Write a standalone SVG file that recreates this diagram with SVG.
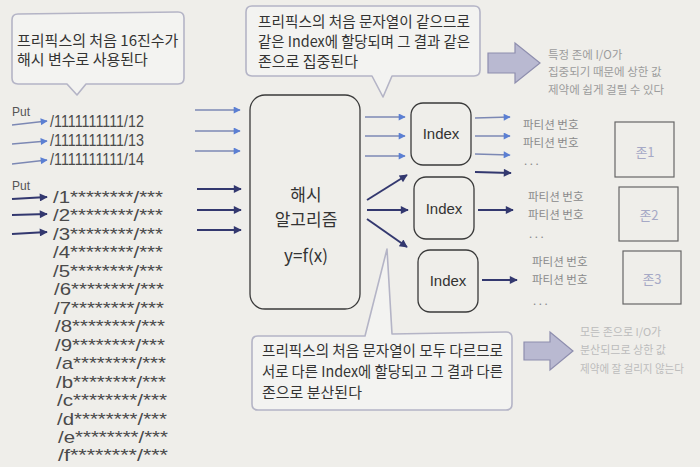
<svg xmlns="http://www.w3.org/2000/svg" width="700" height="467" viewBox="0 0 700 467">
<defs>
<marker id="ah-light" viewBox="0 0 10 10" refX="9" refY="5" markerWidth="9" markerHeight="7" markerUnits="userSpaceOnUse" orient="auto"><path d="M0,0 L10,5 L0,10 Z" fill="#5b7fd3"/></marker>
<marker id="ah-dark" viewBox="0 0 10 10" refX="9" refY="5" markerWidth="10" markerHeight="8" markerUnits="userSpaceOnUse" orient="auto"><path d="M0,0 L10,5 L0,10 Z" fill="#33386f"/></marker>
<style>
.bg{fill:#efeeea}
.callout{fill:#f3f3f1;stroke:#b4b4c6;stroke-width:1.6;stroke-linejoin:round}
.ct{font-family:"Noto Sans CJK KR","Liberation Sans",sans-serif;font-size:15px;fill:#333333}
.key{font-family:"Liberation Sans","Noto Sans CJK KR",sans-serif;font-size:17px;fill:#4a4a4a}
.put{font-family:"Liberation Sans",sans-serif;font-size:12px;fill:#555555}
.lt{stroke:#7c88b4;stroke-width:1.3;fill:none;marker-end:url(#ah-light)}
.dk{stroke:#33386f;stroke-width:2;fill:none;marker-end:url(#ah-dark)}
.box{fill:none;stroke:#3a3a3a;stroke-width:1.3}
.zone{fill:none;stroke:#666666;stroke-width:1.2}
.ht{font-family:"Noto Sans CJK KR","Liberation Sans",sans-serif;font-size:17px;fill:#333333;text-anchor:middle}
.idx{font-family:"Liberation Sans",sans-serif;font-size:15px;fill:#333333;text-anchor:middle}
.pt{font-family:"Noto Sans CJK KR",sans-serif;font-size:11.5px;fill:#8a8a8a}
.zt{font-family:"Noto Sans CJK KR",sans-serif;font-size:13px;fill:#a6a9c6;text-anchor:middle}
.note{font-family:"Noto Sans CJK KR",sans-serif;font-size:11.5px;fill:#9c9c9c}
.note2{font-family:"Noto Sans CJK KR",sans-serif;font-size:11px;fill:#bcbcbc}
.bigarrow{fill:#b9b9d1;stroke:#8e8eae;stroke-width:1.2}
</style>
</defs>
<rect class="bg" x="0" y="0" width="700" height="467"/>

<g id="callout-left">
<path class="callout" d="M18,14 L178,12 Q184,12 184,18 L184,78 Q184,84 178,84 L86,84 L77,95 L67,84 L18,84 Q12,84 12,78 L12,20 Q12,14 18,14 Z"/>
<text class="ct" x="17" y="46">프리픽스의 처음 16진수가</text>
<text class="ct" x="17" y="65">해시 변수로 사용된다</text>
</g>

<g id="callout-top">
<path class="callout" d="M252,6 L474,6 Q480,6 480,12 L480,70 Q480,76 474,76 L392,76 L383,97 L372,76 L252,76 Q246,76 246,70 L246,12 Q246,6 252,6 Z"/>
<text class="ct" x="258" y="27" textLength="212" lengthAdjust="spacingAndGlyphs">프리픽스의 처음 문자열이 같으므로</text>
<text class="ct" x="258" y="47" textLength="212" lengthAdjust="spacingAndGlyphs">같은 Index에 할당되며 그 결과 같은</text>
<text class="ct" x="258" y="67">존으로 집중된다</text>
</g>

<g id="callout-bottom">
<path class="callout" d="M258,336 L365,336 L387,249 L392,334 L506,332 Q512,332 512,338 L512,404 Q512,410 506,410 L258,410 Q252,410 252,404 L252,342 Q252,336 258,336 Z"/>
<text class="ct" x="262" y="356" textLength="241" lengthAdjust="spacingAndGlyphs">프리픽스의 처음 문자열이 모두 다르므로</text>
<text class="ct" x="262" y="377" textLength="241" lengthAdjust="spacingAndGlyphs">서로 다른 Index에 할당되고 그 결과 다른</text>
<text class="ct" x="262" y="398">존으로 분산된다</text>
</g>

<g id="keys-same">
<text class="put" x="12" y="116">Put</text>
<text class="key" x="50" y="127" textLength="94" lengthAdjust="spacingAndGlyphs">/1111111111/12</text>
<text class="key" x="50" y="146" textLength="94" lengthAdjust="spacingAndGlyphs">/1111111111/13</text>
<text class="key" x="50" y="165" textLength="94" lengthAdjust="spacingAndGlyphs">/1111111111/14</text>
</g>

<g id="keys-diff">
<text class="put" x="12" y="190">Put</text>
<text class="key" x="53" y="203" textLength="110" lengthAdjust="spacingAndGlyphs">/1********/***</text>
<text class="key" x="53" y="221" textLength="110" lengthAdjust="spacingAndGlyphs">/2********/***</text>
<text class="key" x="53" y="240" textLength="110" lengthAdjust="spacingAndGlyphs">/3********/***</text>
<text class="key" x="53" y="258" textLength="110" lengthAdjust="spacingAndGlyphs">/4********/***</text>
<text class="key" x="53" y="277" textLength="110" lengthAdjust="spacingAndGlyphs">/5********/***</text>
<text class="key" x="54" y="295" textLength="110" lengthAdjust="spacingAndGlyphs">/6********/***</text>
<text class="key" x="54" y="314" textLength="110" lengthAdjust="spacingAndGlyphs">/7********/***</text>
<text class="key" x="55" y="332" textLength="110" lengthAdjust="spacingAndGlyphs">/8********/***</text>
<text class="key" x="55" y="351" textLength="110" lengthAdjust="spacingAndGlyphs">/9********/***</text>
<text class="key" x="56" y="369" textLength="110" lengthAdjust="spacingAndGlyphs">/a********/***</text>
<text class="key" x="56" y="388" textLength="110" lengthAdjust="spacingAndGlyphs">/b********/***</text>
<text class="key" x="57" y="406" textLength="110" lengthAdjust="spacingAndGlyphs">/c********/***</text>
<text class="key" x="57" y="425" textLength="110" lengthAdjust="spacingAndGlyphs">/d********/***</text>
<text class="key" x="58" y="443" textLength="110" lengthAdjust="spacingAndGlyphs">/e********/***</text>
<text class="key" x="58" y="461" textLength="110" lengthAdjust="spacingAndGlyphs">/f********/***</text>
</g>

<g id="hash">
<rect class="box" x="250" y="95" width="110" height="214" rx="15"/>
<text class="ht" x="306" y="201">해시</text>
<text class="ht" x="306" y="226">알고리즘</text>
<text class="ht" x="306" y="262" font-family="Liberation Sans,sans-serif" font-size="19">y=f(x)</text>
</g>

<g id="index1"><rect class="box" x="411" y="103" width="60" height="62" rx="12"/><text class="idx" x="441" y="139">Index</text></g>
<g id="index2"><rect class="box" x="414" y="177" width="60" height="62" rx="12"/><text class="idx" x="444" y="214">Index</text></g>
<g id="index3"><rect class="box" x="418" y="250" width="60" height="62" rx="12"/><text class="idx" x="448" y="286">Index</text></g>

<g id="zone1"><rect class="zone" x="615" y="122" width="59" height="55"/><text class="zt" x="645" y="157">존1</text></g>
<g id="zone2"><rect class="zone" x="619" y="187" width="59" height="54"/><text class="zt" x="649" y="220">존2</text></g>
<g id="zone3"><rect class="zone" x="623" y="251" width="58" height="53"/><text class="zt" x="652" y="284">존3</text></g>

<g id="partitions">
<text class="pt" x="523" y="129">파티션 번호</text>
<text class="pt" x="523" y="147">파티션 번호</text>
<text class="pt" x="524" y="165">. . .</text>
<text class="pt" x="528" y="201">파티션 번호</text>
<text class="pt" x="528" y="219">파티션 번호</text>
<text class="pt" x="529" y="238">. . .</text>
<text class="pt" x="532" y="266">파티션 번호</text>
<text class="pt" x="532" y="284">파티션 번호</text>
<text class="pt" x="533" y="305">. . .</text>
</g>

<g id="note-top">
<path class="bigarrow" d="M488,53 L515,53 L515,43 L540,63 L515,83 L515,73 L488,73 Z"/>
<text class="note" x="548" y="59">특정 존에 I/O가</text>
<text class="note" x="548" y="76">집중되기 때문에 상한 값</text>
<text class="note" x="548" y="94">제약에 쉽게 걸릴 수 있다</text>
</g>

<g id="note-bottom">
<path class="bigarrow" d="M524,342 L550,342 L550,332 L573,351 L550,370 L550,360 L524,360 Z"/>
<text class="note2" x="580" y="336">모든 존으로 I/O가</text>
<text class="note2" x="580" y="354">분산되므로 상한 값</text>
<text class="note2" x="580" y="373" textLength="104" lengthAdjust="spacingAndGlyphs">제약에 잘 걸리지 않는다</text>
</g>

<g id="connectors">
<line class="lt" x1="12" y1="125" x2="47" y2="121"/>
<line class="lt" x1="12" y1="144" x2="47" y2="141"/>
<line class="lt" x1="12" y1="164" x2="47" y2="160"/>
<line class="dk" x1="12" y1="199" x2="47" y2="197"/>
<line class="dk" x1="12" y1="215" x2="47" y2="214"/>
<line class="dk" x1="12" y1="234" x2="47" y2="232"/>

<line class="lt" x1="195" y1="110" x2="240" y2="110"/>
<line class="lt" x1="195" y1="131" x2="240" y2="131"/>
<line class="lt" x1="195" y1="151" x2="240" y2="151"/>
<line class="dk" x1="197" y1="189" x2="241" y2="189"/>
<line class="dk" x1="197" y1="210" x2="241" y2="210"/>
<line class="dk" x1="197" y1="230" x2="241" y2="230"/>

<line class="lt" x1="365" y1="117" x2="405" y2="117"/>
<line class="lt" x1="365" y1="136" x2="405" y2="136"/>
<line class="lt" x1="365" y1="156" x2="405" y2="156"/>
<line class="dk" x1="367" y1="200" x2="407" y2="175"/>
<line class="dk" x1="367" y1="210" x2="408" y2="210"/>
<line class="dk" x1="367" y1="219" x2="407" y2="247"/>

<line class="lt" x1="475" y1="118" x2="510" y2="117"/>
<line class="lt" x1="475" y1="136" x2="510" y2="136"/>
<line class="lt" x1="475" y1="154" x2="510" y2="155"/>
<line class="dk" x1="475" y1="172" x2="511" y2="173"/>
<line class="dk" x1="478" y1="210" x2="513" y2="210"/>
<line class="dk" x1="482" y1="280" x2="517" y2="280"/>
</g>
</svg>
